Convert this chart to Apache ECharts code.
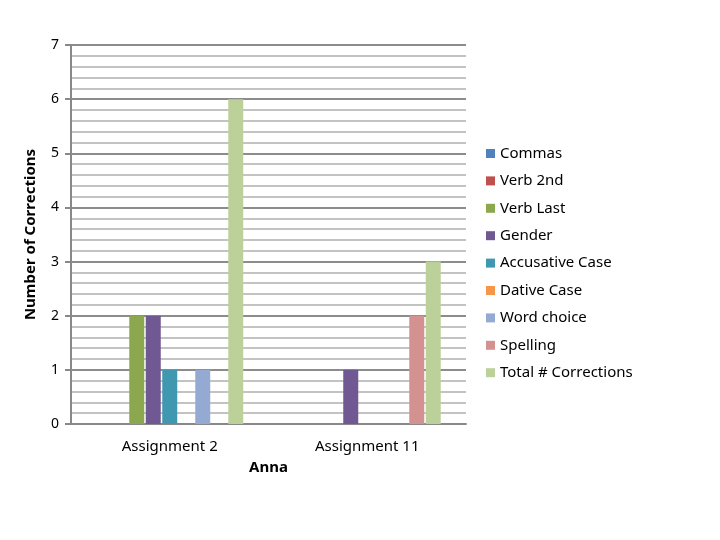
<!DOCTYPE html>
<html>
<head>
    <meta charset="utf-8">
    <script src="https://cdn.jsdelivr.net/npm/echarts@6/dist/echarts.min.js"></script>
</head>
<body style="margin:0;background:#fff">
<div id="main" style="width: 720px; height: 540px"></div>
<script type="text/javascript">
    // data
    var categories = ['Assignment 2', 'Assignment 11'];
    var seriesNames = ['Commas', 'Verb 2nd', 'Verb Last', 'Gender', 'Accusative Case',
        'Dative Case', 'Word choice', 'Spelling', 'Total # Corrections'];
    var commas = [0, 0];
    var verb2nd = [0, 0];
    var verbLast = [2, 0];
    var gender = [2, 1];
    var accusative = [1, 0];
    var dative = [0, 0];
    var wordChoice = [1, 0];
    var spelling = [0, 2];
    var total = [6, 3];
    var yTicks = [0, 1, 2, 3, 4, 5, 6, 7];

    var values = [commas, verb2nd, verbLast, gender, accusative, dative, wordChoice, spelling, total];
    var colors = ['#4F81BD', '#C0504D', '#8CA84F', '#705892', '#4098B0',
        '#F79646', '#95AAD2', '#D39290', '#BCD19A'];
    var font = 'Noto Sans';

    var series = seriesNames.map(function (name, i) {
        return {
            name: name, type: 'bar',
            barWidth: 15, barGap: '10%',
            itemStyle: {color: colors[i]},
            data: values[i]
        };
    });

    var myChart = echarts.init(document.getElementById('main'));
    var option = {
        animation: false,
        textStyle: {fontFamily: font},
        grid: {left: 71, right: 254, top: 45, bottom: 116},
        legend: {
            orient: 'vertical', left: 481, top: 141,
            itemWidth: 9, itemHeight: 9, itemGap: 12.4,
            icon: 'rect',
            textStyle: {fontFamily: font, fontSize: 15, color: '#000'},
            data: seriesNames
        },
        xAxis: {
            type: 'category', data: categories,
            name: 'Anna', nameLocation: 'middle', nameGap: 36,
            nameTextStyle: {fontFamily: font, fontSize: 15, fontWeight: 'bold', color: '#000'},
            axisLine: {lineStyle: {color: '#888', width: 2}},
            axisTick: {show: false},
            axisLabel: {margin: 15, fontFamily: font, fontSize: 15, color: '#000'}
        },
        yAxis: {
            type: 'value', min: 0, max: 7, interval: 1,
            name: 'Number of Corrections', nameLocation: 'middle', nameGap: 33, nameRotate: 90,
            nameTextStyle: {fontFamily: font, fontSize: 15, fontWeight: 'bold', color: '#000'},
            axisLine: {show: true, lineStyle: {color: '#888', width: 2}},
            axisTick: {show: true, length: 6, lineStyle: {color: '#888', width: 2}},
            axisLabel: {margin: 12, fontFamily: font, fontSize: 14, color: '#000',
                formatter: function (v) { return yTicks.indexOf(v) >= 0 ? v : ''; }},
            splitLine: {lineStyle: {color: '#8c8c8c', width: 2}},
            minorTick: {show: false, splitNumber: 5},
            minorSplitLine: {show: true, lineStyle: {color: '#b0b0b0', width: 1.5}}
        },
        series: series
    };
    myChart.setOption(option);
</script>
</body>
</html>
